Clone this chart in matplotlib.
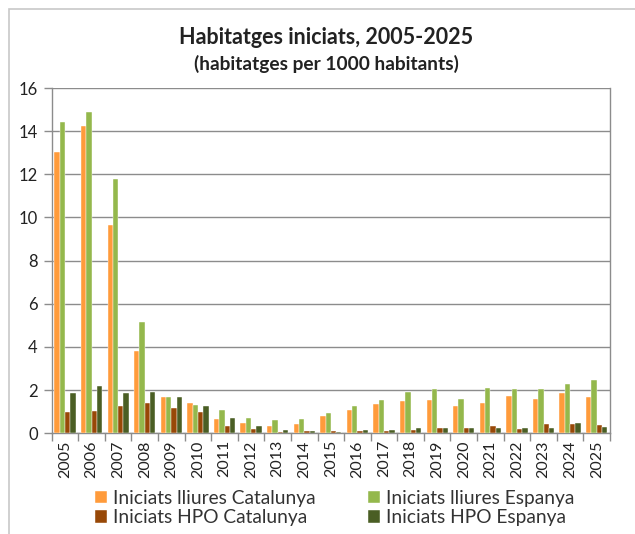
import matplotlib
matplotlib.use("Agg")
import matplotlib.pyplot as plt
import numpy as np
from matplotlib.patches import Rectangle

years = [str(y) for y in range(2005, 2026)]
lliures_cat = [13.03, 14.25, 9.66, 3.82, 1.68, 1.39, 0.66, 0.49, 0.35, 0.42, 0.80, 1.08, 1.36, 1.48, 1.55, 1.27, 1.41, 1.73, 1.59, 1.87, 1.68]
lliures_esp = [14.41, 14.87, 11.78, 5.15, 1.70, 1.31, 1.08, 0.71, 0.62, 0.66, 0.94, 1.28, 1.56, 1.93, 2.04, 1.59, 2.10, 2.04, 2.04, 2.30, 2.47]
hpo_cat = [0.97, 1.03, 1.27, 1.42, 1.19, 0.99, 0.35, 0.20, 0.08, 0.10, 0.10, 0.09, 0.10, 0.17, 0.23, 0.23, 0.32, 0.19, 0.42, 0.42, 0.37]
hpo_esp = [1.86, 2.18, 1.87, 1.93, 1.68, 1.28, 0.71, 0.34, 0.14, 0.10, 0.08, 0.15, 0.15, 0.23, 0.23, 0.23, 0.26, 0.25, 0.23, 0.46, 0.29]

series = [
    ("Iniciats lliures Catalunya", lliures_cat, "#FF9B3B"),
    ("Iniciats lliures Espanya", lliures_esp, "#94B84C"),
    ("Iniciats HPO Catalunya", hpo_cat, "#984807"),
    ("Iniciats HPO Espanya", hpo_esp, "#4A5E24"),
]

W, H = 635, 534
fig = plt.figure(figsize=(W / 100, H / 100), dpi=100)
plt.rcParams['font.family'] = ['Lato', 'DejaVu Sans']

# outer frame
fig.patches.append(Rectangle((9 / W, -0.01), 1.1, (H - 9) / H + 0.01, transform=fig.transFigure,
                             fill=False, edgecolor="#C8C8C8", linewidth=1.2))

ax = fig.add_axes([51.7 / W, (H - 433.3) / H, (610 - 51.7) / W, (433.3 - 88) / H])
x = np.arange(len(years))
bw = 0.2
offsets = [-0.3, -0.1, 0.1, 0.3]
handles = []
for (label, vals, col), off in zip(series, offsets):
    b = ax.bar(x + off, vals, bw, color=col, label=label, zorder=3,
               edgecolor="white", linewidth=0.3)
    handles.append(b)

ax.set_xlim(-0.5, len(years) - 0.5)
ax.set_ylim(0, 16)
ax.set_yticks(range(0, 17, 2))
ax.yaxis.grid(True, color="#8C8C8C", linewidth=1, zorder=0)
ax.set_xticks(x)
ax.set_xticklabels(years, rotation=90, fontsize=11.5, color="#222222")
ax.set_xticks(np.arange(-0.5, len(years), 1), minor=True)
ax.tick_params(axis="x", which="major", length=0, pad=5)
ax.tick_params(axis="x", which="minor", length=6, color="#8C8C8C", width=1)
ax.tick_params(axis="y", length=6, color="#8C8C8C", width=1, labelsize=12, labelcolor="#222222", pad=4)
for s in ["left", "bottom", "right"]:
    ax.spines[s].set_color("#8C8C8C")
    ax.spines[s].set_linewidth(1)
ax.spines["top"].set_visible(False)

fig.text(0.514, (H - 38) / H, "Habitatges iniciats, 2005-2025", ha="center", va="center",
         fontsize=15.5, fontweight="bold", color="#222222")
fig.text(0.514, (H - 64) / H, "(habitatges per 1000 habitants)", ha="center", va="center",
         fontsize=13.8, fontweight="bold", color="#222222")

order = [0, 2, 1, 3]
leg = fig.legend(handles=[handles[i] for i in order],
                 labels=[series[i][0] for i in order], ncol=2,
                 loc="center left", bbox_to_anchor=(87 / W, (H - 508) / H),
                 frameon=False, fontsize=13.8, handlelength=0.62, handleheight=0.62,
                 handletextpad=0.35, columnspacing=2.7, labelspacing=0.15,
                 labelcolor="#333333", borderaxespad=0)

fig.savefig("out.png", dpi=100)
